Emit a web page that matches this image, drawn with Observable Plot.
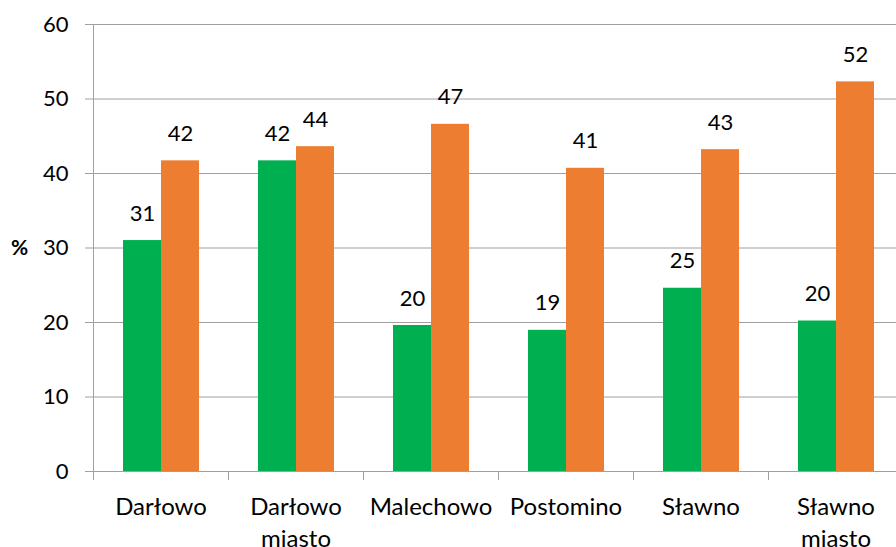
<!DOCTYPE html>
<html>
<head>
<meta charset="utf-8">
<script src="https://cdn.jsdelivr.net/npm/d3@7"></script>
<script src="https://cdn.jsdelivr.net/npm/@observablehq/plot@0.6"></script>
<style>
  html, body { margin: 0; padding: 0; background: #fff; overflow: hidden; }
  #chart { position: relative; width: 896px; height: 547px; }
</style>
</head>
<body>
<div id="chart"></div>
<script>
const categories = ["Darłowo", "Darłowo\nmiasto", "Malechowo", "Postomino", "Sławno", "Sławno\nmiasto"];
const seriesNames = ["Seria 1", "Seria 2"];
const series1Values = [31.0, 41.7, 19.6, 18.95, 24.6, 20.2];
const series2Values = [41.7, 43.6, 46.6, 40.7, 43.2, 52.3];
const yTicks = [0, 10, 20, 30, 40, 50, 60];
const seriesColors = ["#00B050", "#ED7D31"];
const yLabel = "%";

const data = categories.flatMap((c, i) => [
  {category: c, series: seriesNames[0], value: series1Values[i]},
  {category: c, series: seriesNames[1], value: series2Values[i]}
]);

const W = 896, H = 547, mt = 24, mb = 76, ml = 93, mr = -7;
const plotH = H - mt - mb;
const font = "Lato, 'Open Sans', sans-serif";
const grey = "#a0a0a0";
const fs = 22;
const fsCat = 24;

const chart = Plot.plot({
  width: W, height: H,
  marginTop: mt, marginBottom: mb, marginLeft: ml, marginRight: mr,
  style: {fontFamily: font, fontSize: fs + "px", color: "#000", background: "#fff"},
  fx: {domain: categories, padding: 0, label: null},
  x: {domain: seriesNames, paddingInner: 0, paddingOuter: 0.753, axis: null},
  y: {domain: [0, 60], label: null},
  color: {domain: seriesNames, range: seriesColors},
  marks: [
    Plot.gridY(yTicks, {stroke: grey, strokeOpacity: 1}),
    Plot.barY(data, {fx: "category", x: "series", y: "value", fill: "series"}),
    Plot.text(data, {fx: "category", x: "series", y: "value",
      text: d => d3.format(".0f")(d.value), dy: -27, fill: "#000", fontSize: fs}),
    Plot.axisY({ticks: yTicks, tickSize: 8, tickPadding: 17, stroke: grey, label: null, fontSize: fs}),
    Plot.axisFx({anchor: "bottom", tickSize: 0, tickPadding: 20, label: null, fontSize: fsCat, lineHeight: 1.35}),
    Plot.frame({anchor: "left", insetTop: plotH, insetBottom: -8, stroke: grey}),
    Plot.frame({anchor: "left", insetBottom: -8, stroke: grey, fx: () => categories[0]}),
    Plot.text([yLabel], {frameAnchor: "left", textAnchor: "middle", dx: -74, fontWeight: "bold",
      fontSize: 21, fill: "#000", facetAnchor: "left"})
  ]
});
document.getElementById("chart").appendChild(chart);
</script>
</body>
</html>
